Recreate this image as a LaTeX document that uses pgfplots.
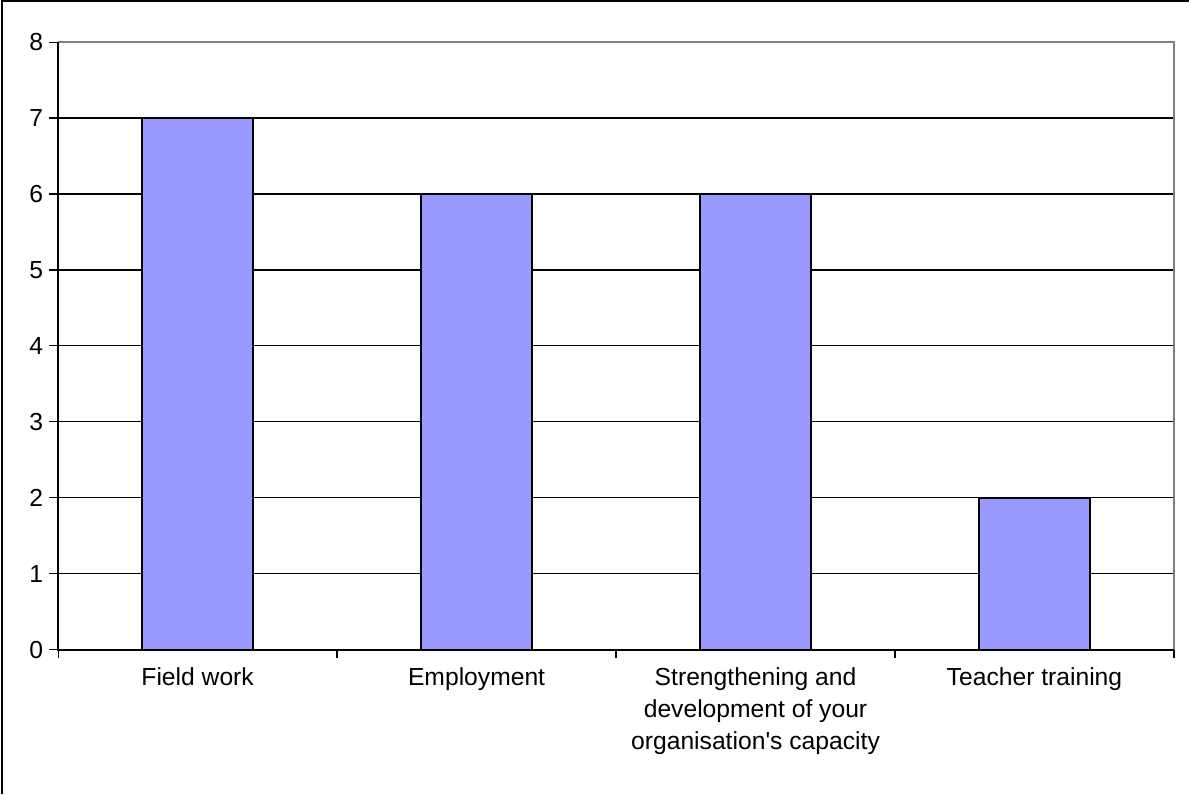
\documentclass[border=0pt]{standalone}
\usepackage{pgfplots}
\pgfplotsset{compat=1.18}
\usepackage{fontspec}
\setmainfont{Liberation Sans}
\definecolor{barblue}{HTML}{9999FF}
\definecolor{framegray}{HTML}{808080}
\begin{document}
\begin{tikzpicture}
\begin{axis}[
  at={(0,0)}, anchor=south west,
  scale only axis,
  width=556.5bp, height=303bp,
  xmin=-0.5, xmax=3.5,
  ymin=0, ymax=8,
  ytick={0,1,...,8},
  xtick={0,1,2,3},
  xticklabels={Field work, Employment, {Strengthening and\\development of your\\organisation\textquotesingle s capacity}, Teacher training},
  minor xtick={-0.5,0.5,1.5,2.5,3.5},
  major x tick style={draw=none},
  tick pos=left,
  tick align=outside,
  major tick length=4.5bp,
  minor tick length=4bp,
  tick style={black, line width=0.6bp},
  axis line style={draw=none},
  ymajorgrids,
  major grid style={black, line width=0.6bp},
  ticklabel style={font=\fontsize{12.3bp}{16bp}\selectfont},
  xticklabel style={align=center, yshift=-1bp},
  yticklabel style={xshift=0.5bp},
  /pgf/number format/assume math mode=true,
  ybar, bar width=55bp,
  clip=false,
]
\addplot[fill=barblue, draw=black, line width=1bp] coordinates {(0,7) (1,6) (2,6) (3,2)};
\draw[framegray, line width=1.2bp] (rel axis cs:0,1) -- (rel axis cs:1,1) -- (rel axis cs:1,0);
\draw[black, line width=1bp] (rel axis cs:0,1) -- (rel axis cs:0,0) -- (rel axis cs:1,0);
\end{axis}
\pgfresetboundingbox
\path (-29bp,-71.5bp) rectangle (563.5bp,324bp);
\draw[black, line width=1bp] (-28.25bp,-72bp) -- (-28.25bp,323.25bp) -- (564bp,323.25bp);
\end{tikzpicture}
\end{document}
